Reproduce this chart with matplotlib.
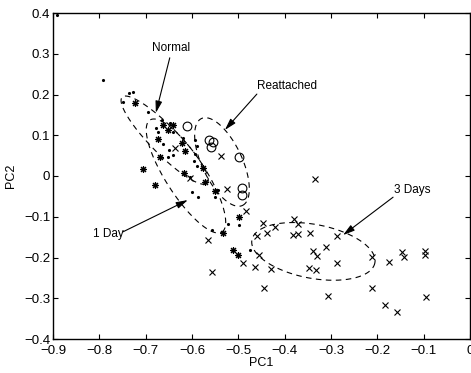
import numpy as np
import matplotlib
matplotlib.use("Agg")
import matplotlib.pyplot as plt

plt.rcParams['font.family'] = ['Liberation Sans', 'DejaVu Sans']

# ---- data ----
normal_x = [-0.891, -0.792, -0.736, -0.727, -0.749, -0.695, -0.665, -0.678, -0.673, -0.641,
            -0.619, -0.663, -0.650, -0.641, -0.652, -0.594, -0.589, -0.594, -0.596, -0.589,
            -0.604, -0.600, -0.587, -0.550, -0.544, -0.522, -0.499, -0.557, -0.475, -0.648]
normal_y = [0.395, 0.236, 0.204, 0.206, 0.182, 0.157, 0.137, 0.118, 0.108, 0.108,
            0.093, 0.079, 0.064, 0.052, 0.047, 0.088, 0.074, 0.054, 0.037, 0.025,
            -0.002, -0.039, -0.052, -0.052, -0.034, -0.118, -0.120, -0.133, -0.182, 0.130]

day1_x = [-0.723, -0.663, -0.641, -0.652, -0.673, -0.622, -0.615, -0.669, -0.706, -0.680,
          -0.617, -0.576, -0.572, -0.550, -0.499, -0.533, -0.512, -0.501]
day1_y = [0.179, 0.125, 0.125, 0.113, 0.091, 0.081, 0.061, 0.047, 0.017, -0.022,
          0.007, 0.020, -0.015, -0.037, -0.101, -0.140, -0.182, -0.194]

reatt_x = [-0.611, -0.563, -0.555, -0.559, -0.499, -0.492, -0.492]
reatt_y = [0.123, 0.088, 0.083, 0.071, 0.047, -0.029, -0.047]

day3_x = [-0.637, -0.537, -0.604, -0.525, -0.335, -0.483, -0.447, -0.421, -0.380, -0.371,
          -0.460, -0.438, -0.382, -0.371, -0.345, -0.287, -0.339, -0.330, -0.311, -0.455,
          -0.490, -0.464, -0.430, -0.348, -0.332, -0.287, -0.212, -0.175, -0.147, -0.143,
          -0.097, -0.097, -0.445, -0.307, -0.212, -0.095, -0.184, -0.158, -0.566, -0.557]
day3_y = [0.069, 0.049, -0.005, -0.032, -0.007, -0.086, -0.115, -0.125, -0.106, -0.118,
          -0.147, -0.140, -0.145, -0.142, -0.140, -0.147, -0.184, -0.196, -0.174, -0.194,
          -0.214, -0.223, -0.228, -0.226, -0.231, -0.214, -0.199, -0.211, -0.187, -0.199,
          -0.184, -0.194, -0.275, -0.294, -0.275, -0.297, -0.317, -0.334, -0.157, -0.236]

# ellipses: center, semi-axis vector u, semi-axis vector v (data units)
ell_normal = ((-0.659, 0.088), (0.0917, -0.1055), (0.0212, 0.0245))
ell_day1 = ((-0.613, 0.000), (0.0777, -0.1374), (0.0363, 0.0265))
ell_reatt = ((-0.5353, 0.0344), (0.0442, -0.1067), (0.0391, 0.0209))
ell_day3 = ((-0.338, -0.185), (0.1327, -0.0282), (-0.0108, -0.0650))

labels = ["Normal", "Reattached", "1 Day", "3 Days"]
label_pos = [(-0.645, 0.314), (-0.395, 0.221), (-0.781, -0.142), (-0.125, -0.034)]
arrow_start = [(-0.648, 0.290), (-0.460, 0.201), (-0.749, -0.137), (-0.166, -0.052)]
arrow_tip = [(-0.678, 0.155), (-0.529, 0.113), (-0.609, -0.059), (-0.274, -0.145)]

xticks = [-0.9, -0.8, -0.7, -0.6, -0.5, -0.4, -0.3, -0.2, -0.1, 0]
xticklabels = ["\u22120.9", "\u22120.8", "\u22120.7", "\u22120.6", "\u22120.5",
               "\u22120.4", "\u22120.3", "\u22120.2", "\u22120.1", "0"]
yticks = [-0.4, -0.3, -0.2, -0.1, 0, 0.1, 0.2, 0.3, 0.4]
yticklabels = ["\u22120.4", "\u22120.3", "\u22120.2", "\u22120.1", "0", "0.1", "0.2", "0.3", "0.4"]

# ---- figure ----
fig = plt.figure(figsize=(4.71, 3.73), dpi=100)
ax = fig.add_axes([53/471, 34/373, 417/471, 326/373])

ax.plot(normal_x, normal_y, linestyle='none', marker='.', color='k', markersize=2.5)
ax.plot(day1_x, day1_y, linestyle='none', marker=(8, 2, 0), color='k', markersize=5,
        markeredgewidth=0.8)
ax.plot(reatt_x, reatt_y, linestyle='none', marker='o', markerfacecolor='none',
        markeredgecolor='k', markersize=6.3, markeredgewidth=0.8)
ax.plot(day3_x, day3_y, linestyle='none', marker='x', color='k', markersize=3.8,
        markeredgewidth=0.8)

t = np.linspace(0, 2*np.pi, 300)
for (c, u, v) in [ell_normal, ell_day1, ell_reatt, ell_day3]:
    ex = c[0] + u[0]*np.cos(t) + v[0]*np.sin(t)
    ey = c[1] + u[1]*np.cos(t) + v[1]*np.sin(t)
    ax.plot(ex, ey, color='k', linewidth=0.8, dashes=(5, 4))

for lab, lp, s, tip in zip(labels, label_pos, arrow_start, arrow_tip):
    ax.text(lp[0], lp[1], lab, ha='center', va='center', fontsize=8.5)
    ax.annotate('', xy=tip, xytext=s,
                arrowprops=dict(arrowstyle='-|>,head_length=0.7,head_width=0.2',
                                color='k', linewidth=0.8, shrinkA=0, shrinkB=0))

ax.set_xlim(-0.9, 0)
ax.set_ylim(-0.4, 0.4)
ax.set_xticks(xticks)
ax.set_xticklabels(xticklabels)
ax.set_yticks(yticks)
ax.set_yticklabels(yticklabels)
ax.tick_params(direction='in', top=True, right=True, length=3.5, width=0.8,
               labelsize=9.5, pad=2)
ax.tick_params(axis='x', pad=4)
for sp in ax.spines.values():
    sp.set_linewidth(1.0)
ax.set_xlabel("PC1", fontsize=9)
ax.set_ylabel("PC2", fontsize=9)
ax.xaxis.set_label_coords(0.5, -0.055)
ax.yaxis.set_label_coords(-0.086, 0.5)

fig.savefig("out.png", dpi=100)
